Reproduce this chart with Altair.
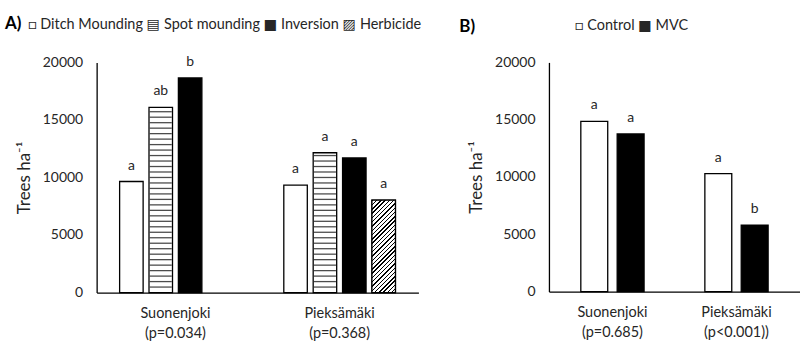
import altair as alt
import pandas as pd

# ---------------- data ----------------
sites = ["Suonenjoki", "Pieksämäki"]
a_pvals = ["(p=0.034)", "(p=0.368)"]
b_pvals = ["(p=0.685)", "(p<0.001))"]

a_treatments = ["Ditch Mounding", "Spot mounding", "Inversion", "Herbicide"]
a_suonenjoki = [9650, 16100, 18650]          # no herbicide plot at Suonenjoki
a_pieksamaki = [9330, 12150, 11700, 8030]
a_letters_suonenjoki = ["a", "ab", "b"]
a_letters_pieksamaki = ["a", "a", "a", "a"]

b_treatments = ["Control", "MVC"]
b_suonenjoki = [14850, 13750]
b_pieksamaki = [10300, 5800]
b_letters_suonenjoki = ["a", "a"]
b_letters_pieksamaki = ["a", "b"]

y_ticks = [0, 5000, 10000, 15000, 20000]
y_title = "Trees ha⁻¹"
a_legend = "□ Ditch Mounding ▤ Spot mounding ■ Inversion ▨ Herbicide"
b_legend = "□ Control   ■ MVC"

FONT = "Lato, DejaVu Sans"
TXT = "#262626"

# ---------------- tables ----------------
a_site_labels = [s + "\n" + p for s, p in zip(sites, a_pvals)]
b_site_labels = [s + "\n" + p for s, p in zip(sites, b_pvals)]

rows = []
for t, v, l in zip(a_treatments, a_suonenjoki, a_letters_suonenjoki):
    rows.append({"site": a_site_labels[0], "treatment": t, "value": v, "letter": l})
for t, v, l in zip(a_treatments, a_pieksamaki, a_letters_pieksamaki):
    rows.append({"site": a_site_labels[1], "treatment": t, "value": v, "letter": l})
dfA = pd.DataFrame(rows)

rows = []
for t, v, l in zip(b_treatments, b_suonenjoki, b_letters_suonenjoki):
    rows.append({"site": b_site_labels[0], "treatment": t, "value": v, "letter": l})
for t, v, l in zip(b_treatments, b_pieksamaki, b_letters_pieksamaki):
    rows.append({"site": b_site_labels[1], "treatment": t, "value": v, "letter": l})
dfB = pd.DataFrame(rows)

# horizontal stripes inside the spot-mounding bars
A_H = 231
B_H = 230
stripe_step = 20000 * 5.5 / A_H
srows = []
for _, r in dfA[dfA.treatment == "Spot mounding"].iterrows():
    k = 1
    while k * stripe_step < r.value - stripe_step * 0.4:
        srows.append({"site": r.site, "treatment": r.treatment, "value": k * stripe_step})
        k += 1
dfStripes = pd.DataFrame(srows)

# diagonal hatch gradient for the herbicide bar
A_W = 323
a_pi, a_po, o_pi = 0.32, 0.14, 0.2
a_step = A_W / (2 - a_pi + 2 * a_po)
a_band = a_step * (1 - a_pi)
bar_w = a_band / (4 - o_pi) * (1 - o_pi)
herb_val = float(dfA[dfA.treatment == "Herbicide"].value.iloc[0])
bar_h = herb_val / 20000 * A_H
k = (bar_w + bar_h) / (bar_h * (1 + (bar_w / bar_h) ** 2))
period = 4.3 / (bar_w + bar_h)
stops = []
t0 = 0.0
while t0 < 1.0:
    t1 = min(t0 + period * 0.33, 1.0)
    t2 = min(t0 + period, 1.0)
    stops += [{"offset": t0, "color": "black"}, {"offset": t1, "color": "black"},
              {"offset": t1, "color": "white"}, {"offset": t2, "color": "white"}]
    t0 += period
hatch = {"gradient": "linear", "x1": 0, "y1": 0,
         "x2": (bar_w / bar_h) * k, "y2": k, "stops": stops}


def y_enc():
    return alt.Y("value:Q", scale=alt.Scale(domain=[0, 20000], nice=False),
                 axis=alt.Axis(title=y_title, values=y_ticks, format="d",
                               labelPadding=14, titlePadding=9))


def x_enc(labels, pi, po):
    return alt.X("site:N", sort=labels, scale=alt.Scale(domain=labels, paddingInner=pi, paddingOuter=po),
                 axis=alt.Axis(title=None, labelExpr="split(datum.label, '\\n')", labelAngle=0,
                               labelPadding=14, labelBaseline="top", labelLineHeight=20,
                               labelFontSize=14.5))


def off_enc(treats, pi):
    return alt.XOffset("treatment:N", sort=treats,
                       scale=alt.Scale(domain=treats, paddingInner=pi, paddingOuter=0))


# ---------------- panel A ----------------
xa = x_enc(a_site_labels, a_pi, a_po)
oa = off_enc(a_treatments, o_pi)
baseA = alt.Chart(dfA).encode(x=xa, xOffset=oa, y=y_enc())
barsA = baseA.mark_bar(stroke="black", strokeWidth=1.3).encode(
    fill=alt.Fill("treatment:N", scale=alt.Scale(domain=a_treatments,
                  range=["white", "white", "black", "white"]), legend=None))
hatchA = baseA.transform_filter(alt.datum.treatment == "Herbicide").mark_bar(
    fill=hatch, stroke="black", strokeWidth=1.3)
stripesA = alt.Chart(dfStripes).mark_tick(orient="horizontal", size=bar_w - 1.5, thickness=1.3,
                                          color="black").encode(x=xa, xOffset=oa, y=y_enc())
textA = baseA.mark_text(baseline="bottom", dy=-9, fontSize=14, color=TXT, font=FONT).encode(text="letter:N")
labA = alt.Chart(pd.DataFrame({"t": ["A)"]})).mark_text(
    align="left", baseline="middle", fontSize=17, fontWeight="bold", color="black", font=FONT
).encode(x=alt.value(-92), y=alt.value(-39), text="t:N")
legA = alt.Chart(pd.DataFrame({"t": [a_legend]})).mark_text(
    align="left", baseline="middle", fontSize=14.5, color=TXT, font=FONT
).encode(x=alt.value(-69), y=alt.value(-38), text="t:N")
panelA = alt.layer(barsA, hatchA, stripesA, textA, labA, legA).properties(width=A_W, height=A_H)

# ---------------- panel B ----------------
xb = x_enc(b_site_labels, 0.49, 0.257)
ob = off_enc(b_treatments, 0.26)
baseB = alt.Chart(dfB).encode(x=xb, xOffset=ob, y=y_enc())
barsB = baseB.mark_bar(stroke="black", strokeWidth=1.3).encode(
    fill=alt.Fill("treatment:N", scale=alt.Scale(domain=b_treatments, range=["white", "black"]), legend=None))
textB = baseB.mark_text(baseline="bottom", dy=-9, fontSize=14, color=TXT, font=FONT).encode(text="letter:N")
labB = alt.Chart(pd.DataFrame({"t": ["B)"]})).mark_text(
    align="left", baseline="middle", fontSize=17, fontWeight="bold", color="black", font=FONT
).encode(x=alt.value(-90), y=alt.value(-36), text="t:N")
legB = alt.Chart(pd.DataFrame({"t": [b_legend]})).mark_text(
    align="left", baseline="middle", fontSize=14.5, color=TXT, font=FONT
).encode(x=alt.value(26), y=alt.value(-37), text="t:N")
panelB = alt.layer(barsB, textB, labB, legB).properties(width=252, height=B_H)

chart = alt.hconcat(panelA, panelB, spacing=38).resolve_scale(
    x="independent", xOffset="independent", fill="independent", y="independent"
).properties(
    padding={"left": 5, "top": 14, "right": 0, "bottom": 0}
).configure(font=FONT).configure_view(stroke=None).configure_axis(
    grid=False, ticks=False, tickSize=0, domainColor="black", domainWidth=1.3,
    labelFont=FONT, labelFontSize=14, labelColor=TXT,
    titleFont=FONT, titleFontSize=17, titleFontWeight="normal", titleColor=TXT
)

chart.save("out.html", embed_options={"renderer": "svg", "actions": False})
